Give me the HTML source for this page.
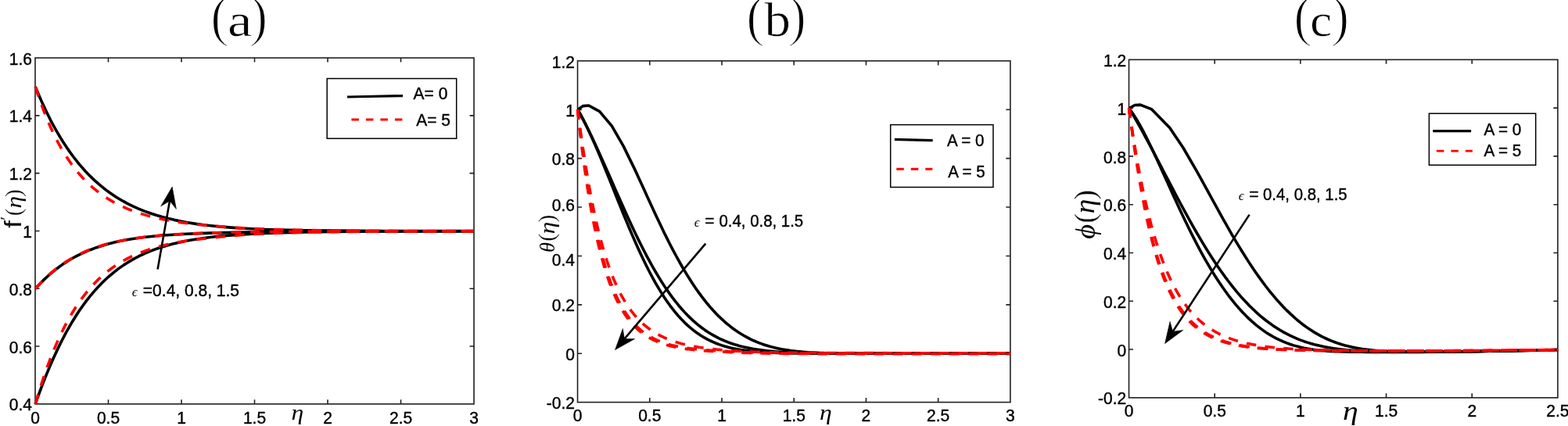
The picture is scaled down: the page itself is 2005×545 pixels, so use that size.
<!DOCTYPE html>
<html lang="en"><head><meta charset="utf-8"><title>Figure: velocity, temperature and concentration profiles</title>
<style>
html,body{margin:0;padding:0;background:#fff;}
body{width:2005px;height:545px;overflow:hidden;}
svg{display:block;}
svg text{font-family:"Liberation Sans", Arial, Helvetica, sans-serif;font-size:22px;fill:#000;stroke:#000;stroke-width:0.42px;stroke-linejoin:round;}
svg text.sf{font-family:"Liberation Serif","Times New Roman",serif;stroke:none;}
svg text.si{font-family:"Liberation Serif","Times New Roman",serif;font-style:italic;stroke:none;}
svg text.ss{font-family:"Liberation Sans",Arial,sans-serif;stroke:none;}
</style></head><body>
<svg width="2005" height="545" viewBox="0 0 2005 545">
<rect width="2005" height="545" fill="#fff"/>
<g>
<rect x="45" y="74.05" width="561.05" height="442.8" fill="none" stroke="#202020" stroke-width="1.6"/>
<path d="M138.51 516.85v-5.5 M138.51 74.05v5.5 M232.02 516.85v-5.5 M232.02 74.05v5.5 M325.52 516.85v-5.5 M325.52 74.05v5.5 M419.03 516.85v-5.5 M419.03 74.05v5.5 M512.54 516.85v-5.5 M512.54 74.05v5.5 M45 443.05h5.5 M606.05 443.05h-5.5 M45 369.25h5.5 M606.05 369.25h-5.5 M45 295.45h5.5 M606.05 295.45h-5.5 M45 221.65h5.5 M606.05 221.65h-5.5 M45 147.85h5.5 M606.05 147.85h-5.5 " fill="none" stroke="#202020" stroke-width="1.6"/>
<text transform="translate(45 542) scale(0.955 1)" text-anchor="middle">0</text>
<text transform="translate(138.51 542) scale(0.955 1)" text-anchor="middle">0.5</text>
<text transform="translate(232.02 542) scale(0.955 1)" text-anchor="middle">1</text>
<text transform="translate(325.52 542) scale(0.955 1)" text-anchor="middle">1.5</text>
<text transform="translate(419.03 542) scale(0.955 1)" text-anchor="middle">2</text>
<text transform="translate(512.54 542) scale(0.955 1)" text-anchor="middle">2.5</text>
<text transform="translate(606.05 542) scale(0.955 1)" text-anchor="middle">3</text>
<text transform="translate(41 525.45) scale(0.955 1)" text-anchor="end">0.4</text>
<text transform="translate(41 451.65) scale(0.955 1)" text-anchor="end">0.6</text>
<text transform="translate(41 377.85) scale(0.955 1)" text-anchor="end">0.8</text>
<text transform="translate(41 304.05) scale(0.955 1)" text-anchor="end">1</text>
<text transform="translate(41 230.25) scale(0.955 1)" text-anchor="end">1.2</text>
<text transform="translate(41 156.45) scale(0.955 1)" text-anchor="end">1.4</text>
<text transform="translate(41 82.65) scale(0.955 1)" text-anchor="end">1.6</text>
<path d="M45.2 111 L49.78 121.99 L54.59 132.87 L59.65 143.63 L64.99 154.26 L68.72 161.25 L72.58 168.17 L76.6 175 L80.78 181.74 L85.12 188.36 L89.63 194.87 L94.33 201.25 L99.22 207.48 L104.31 213.55 L109.6 219.44 L115.1 225.15 L120.81 230.64 L126.73 235.92 L129.77 238.46 L132.86 240.95 L136.01 243.37 L139.2 245.73 L142.44 248.02 L145.73 250.24 L149.07 252.39 L152.46 254.48 L155.88 256.49 L159.35 258.43 L162.86 260.31 L169.99 263.84 L177.26 267.1 L184.65 270.09 L192.15 272.81 L199.73 275.29 L207.39 277.53 L215.12 279.55 L222.9 281.37 L230.72 283 L238.57 284.46 L250.41 286.36 L262.3 287.96 L274.22 289.3 L286.16 290.41 L302.12 291.62 L318.09 292.56 L338.07 293.45 L358.06 294.05 L390.05 294.68 L430.05 295.14 L490.04 295.47 L606 295.66" fill="none" stroke="#000" stroke-width="3.6" stroke-linejoin="round"/>
<path d="M45.2 369.3 L50.59 363.49 L56.18 357.88 L62 352.49 L64.98 349.89 L68.02 347.34 L71.12 344.87 L74.27 342.46 L77.48 340.12 L80.73 337.85 L84.04 335.66 L87.4 333.54 L90.81 331.51 L94.27 329.55 L97.77 327.66 L101.31 325.86 L104.9 324.14 L108.52 322.49 L112.18 320.93 L115.88 319.44 L123.36 316.68 L130.94 314.22 L138.61 312.02 L146.36 310.07 L154.16 308.35 L162 306.84 L169.88 305.52 L181.75 303.83 L193.67 302.45 L205.61 301.33 L217.58 300.42 L233.55 299.47 L253.52 298.59 L277.51 297.87 L317.5 296.94 L353.5 296.43 L405.5 296.03 L493.5 295.79 L606 295.72" fill="none" stroke="#000" stroke-width="3.6" stroke-linejoin="round"/>
<path d="M45.2 516.8 L50.58 501.84 L54.79 490.69 L59.18 479.61 L63.76 468.61 L68.55 457.7 L73.56 446.91 L78.83 436.24 L84.37 425.71 L88.23 418.79 L92.24 411.95 L96.4 405.21 L100.72 398.57 L105.22 392.05 L109.9 385.66 L114.78 379.42 L119.85 373.35 L125.14 367.45 L130.64 361.75 L133.48 358.99 L136.37 356.28 L139.32 353.63 L142.32 351.04 L145.38 348.52 L148.49 346.07 L151.66 343.68 L154.88 341.36 L158.15 339.12 L161.48 336.95 L164.85 334.85 L168.27 332.83 L171.74 330.89 L175.25 329.02 L178.8 327.23 L182.39 325.51 L186.02 323.88 L189.68 322.31 L197.1 319.4 L204.63 316.77 L212.25 314.41 L219.95 312.29 L227.71 310.41 L235.52 308.73 L243.37 307.24 L251.25 305.92 L263.12 304.23 L275.03 302.82 L286.97 301.66 L302.92 300.4 L318.89 299.4 L338.86 298.45 L362.85 297.62 L390.84 296.96 L426.84 296.44 L478.83 296.04 L566.83 295.79 L606 295.75" fill="none" stroke="#000" stroke-width="3.6" stroke-linejoin="round"/>
<path d="M45.2 111 L48.89 122.29 L52.83 133.49 L57.02 144.59 L61.51 155.57 L64.68 162.81 L68.01 169.98 L71.51 177.06 L75.19 184.05 L79.06 190.93 L83.14 197.69 L87.45 204.31 L91.99 210.76 L96.77 217.04 L99.26 220.11 L101.82 223.12 L104.44 226.07 L107.13 228.97 L109.88 231.8 L112.7 234.56 L115.6 237.26 L118.55 239.89 L121.58 242.44 L124.67 244.92 L127.82 247.32 L131.03 249.64 L134.3 251.87 L137.63 254.03 L141.02 256.1 L144.46 258.09 L147.94 260 L151.48 261.82 L155.05 263.56 L158.67 265.22 L162.32 266.81 L166.01 268.31 L173.47 271.11 L181.04 273.62 L188.7 275.87 L196.42 277.89 L204.2 279.7 L212.03 281.31 L219.89 282.75 L231.73 284.62 L243.62 286.2 L255.54 287.53 L267.49 288.66 L291.4 290.59 L307.37 291.65 L327.34 292.67 L351.32 293.57 L379.31 294.28 L415.31 294.86 L463.3 295.28 L539.3 295.56 L606 295.65" fill="none" stroke="#ff0000" stroke-width="3.6" stroke-linejoin="round" stroke-dasharray="12.7 11.8" stroke-dashoffset="0"/>
<path d="M45.2 369.3 L50.5 363.42 L56.02 357.74 L58.86 354.98 L61.76 352.29 L64.73 349.66 L67.75 347.1 L70.82 344.6 L73.96 342.17 L77.15 339.82 L80.4 337.54 L83.7 335.34 L87.05 333.22 L90.46 331.18 L93.91 329.21 L97.41 327.33 L100.96 325.53 L104.55 323.81 L108.17 322.18 L111.84 320.62 L115.53 319.14 L119.26 317.73 L126.8 315.15 L134.44 312.84 L142.16 310.79 L149.93 308.99 L157.76 307.39 L165.63 306 L173.53 304.77 L185.42 303.22 L197.35 301.95 L209.3 300.91 L225.26 299.83 L241.24 299 L261.22 298.23 L297.21 297.3 L329.2 296.69 L373.2 296.21 L437.2 295.89 L569.2 295.73 L606 295.71" fill="none" stroke="#ff0000" stroke-width="3.6" stroke-linejoin="round" stroke-dasharray="12.7 11.8" stroke-dashoffset="0"/>
<path d="M45.2 516.8 L49.72 501.58 L53.3 490.23 L57.07 478.95 L61.04 467.75 L65.25 456.63 L69.71 445.62 L74.45 434.73 L77.78 427.55 L81.26 420.45 L84.9 413.43 L88.72 406.5 L92.72 399.69 L96.91 392.99 L101.32 386.43 L105.95 380.03 L110.81 373.8 L113.34 370.76 L115.92 367.77 L118.57 364.84 L121.29 361.97 L124.06 359.15 L126.91 356.41 L129.82 353.72 L132.79 351.11 L135.83 348.57 L138.93 346.11 L142.09 343.72 L145.31 341.41 L148.59 339.19 L151.93 337.04 L155.32 334.98 L158.76 333 L162.26 331.1 L165.79 329.29 L169.37 327.56 L173 325.91 L176.66 324.34 L180.35 322.85 L187.83 320.1 L195.41 317.63 L203.08 315.42 L210.82 313.46 L218.61 311.71 L226.45 310.16 L234.32 308.79 L246.19 307.03 L258.09 305.56 L270.02 304.33 L281.94 302.96 L293.89 301.81 L309.83 300.56 L325.8 299.56 L345.77 298.59 L369.76 297.75 L397.75 297.07 L433.75 296.51 L485.74 296.08 L569.74 295.81 L606 295.77" fill="none" stroke="#ff0000" stroke-width="3.6" stroke-linejoin="round" stroke-dasharray="12.7 11.8" stroke-dashoffset="0"/>
<path d="M201.6 344.5L217.01 257.08" stroke="#000" stroke-width="2.6" fill="none"/>
<path d="M220.2 239L225.36 267.33L217.01 257.08L205.66 263.85Z" fill="#000" stroke="#000" stroke-width="0.6" stroke-linejoin="miter"/>
<text class="si" x="168.67" y="379.20" style="font-size:17.50px">ϵ</text>
<text transform="translate(182.85 379.2) scale(0.955 1)">=0.4, 0.8, 1.5</text>
<rect x="418.2" y="100.5" width="165.5" height="76.7" fill="#fff" stroke="#000" stroke-width="1.5"/>
<path d="M444 124L515 122.6" stroke="#000" stroke-width="3.2" fill="none"/>
<path d="M449.4 153H514.8" stroke="#ff0000" stroke-width="2.9" stroke-dasharray="9.5 9" fill="none"/>
<text transform="translate(528.6 126.7) scale(0.955 1)">A= 0</text>
<text transform="translate(532.2 161) scale(0.955 1)">A= 5</text>
<text class="ss" transform="translate(26.80 291.83) rotate(-90) scale(1.220 1)" style="font-size:28.70px">f</text>
<text class="ss" transform="translate(14.60 282.40) rotate(-90) scale(1.500 1)" style="font-size:20.00px;stroke:#fff;stroke-width:0.30px">′</text>
<text class="sf" transform="translate(26.50 276.33) rotate(-90)" style="font-size:29.50px;stroke:#fff;stroke-width:0.30px">(</text>
<text class="si" transform="translate(26.90 266.50) rotate(-90) scale(1.150 1)" style="font-size:27.30px">η</text>
<text class="sf" transform="translate(26.50 251.98) rotate(-90)" style="font-size:29.50px;stroke:#fff;stroke-width:0.30px">)</text>
<text class="si" transform="translate(372.59 536.80) scale(1.150 1)" style="font-size:27.60px">η</text>
<text class="sf" x="269.06" y="44.70" style="font-size:72.00px;stroke:#fff;stroke-width:1.80px">(</text>
<text class="sf" transform="translate(290.92 46.40) scale(1.190 1)" style="font-size:59.60px;stroke:#fff;stroke-width:0.60px">a</text>
<text class="sf" x="318.62" y="44.70" style="font-size:72.00px;stroke:#fff;stroke-width:1.80px">)</text>
</g>
<g>
<rect x="738.55" y="77.9" width="553.35" height="436.7" fill="none" stroke="#202020" stroke-width="1.6"/>
<path d="M830.77 514.6v-5.5 M830.77 77.9v5.5 M923 514.6v-5.5 M923 77.9v5.5 M1015.23 514.6v-5.5 M1015.23 77.9v5.5 M1107.45 514.6v-5.5 M1107.45 77.9v5.5 M1199.68 514.6v-5.5 M1199.68 77.9v5.5 M738.55 452.21h5.5 M1291.9 452.21h-5.5 M738.55 389.83h5.5 M1291.9 389.83h-5.5 M738.55 327.44h5.5 M1291.9 327.44h-5.5 M738.55 265.06h5.5 M1291.9 265.06h-5.5 M738.55 202.67h5.5 M1291.9 202.67h-5.5 M738.55 140.29h5.5 M1291.9 140.29h-5.5 " fill="none" stroke="#202020" stroke-width="1.6"/>
<text transform="translate(738.55 539.2) scale(0.955 1)" text-anchor="middle">0</text>
<text transform="translate(830.77 539.2) scale(0.955 1)" text-anchor="middle">0.5</text>
<text transform="translate(923 539.2) scale(0.955 1)" text-anchor="middle">1</text>
<text transform="translate(1015.23 539.2) scale(0.955 1)" text-anchor="middle">1.5</text>
<text transform="translate(1107.45 539.2) scale(0.955 1)" text-anchor="middle">2</text>
<text transform="translate(1199.68 539.2) scale(0.955 1)" text-anchor="middle">2.5</text>
<text transform="translate(1291.9 539.2) scale(0.955 1)" text-anchor="middle">3</text>
<text transform="translate(735 523.2) scale(0.955 1)" text-anchor="end">-0.2</text>
<text transform="translate(735 460.81) scale(0.955 1)" text-anchor="end">0</text>
<text transform="translate(735 398.43) scale(0.955 1)" text-anchor="end">0.2</text>
<text transform="translate(735 340.24) scale(0.955 1)" text-anchor="end">0.4</text>
<text transform="translate(735 269.66) scale(0.955 1)" text-anchor="end">0.6</text>
<text transform="translate(735 211.27) scale(0.955 1)" text-anchor="end">0.8</text>
<text transform="translate(735 148.89) scale(0.955 1)" text-anchor="end">1</text>
<text transform="translate(735 86.5) scale(0.955 1)" text-anchor="end">1.2</text>
<path d="M738.9 140.2 L745.4 135.6 L752.8 135 L766.7 142.6 L782.3 161.09 L796.86 186.35 L811.43 216.13 L816.09 226.18 L819.78 234.22 L823.47 242.31 L827.16 250.41 L830.85 258.48 L834.54 266.51 L838.23 274.47 L841.92 282.33 L845.61 290.07 L849.3 297.68 L852.99 305.14 L856.68 312.44 L860.37 319.56 L864.06 326.49 L867.75 333.22 L871.44 339.75 L875.13 346.07 L878.82 352.18 L882.51 358.07 L886.2 363.73 L889.89 369.18 L893.58 374.4 L897.27 379.41 L900.96 384.19 L904.65 388.76 L908.34 393.11 L912.03 397.25 L915.72 401.18 L919.41 404.91 L923.1 408.44 L926.79 411.78 L930.48 414.93 L934.17 417.9 L937.86 420.69 L941.55 423.31 L945.24 425.76 L948.93 428.05 L952.62 430.2 L956.31 432.19 L960 434.04 L963.69 435.76 L967.38 437.36 L971.07 438.83 L974.76 440.18 L978.45 441.43 L982.14 442.57 L985.83 443.61 L989.52 444.57 L993.21 445.43 L996.9 446.22 L1000.59 446.93 L1004.28 447.57 L1007.97 448.15 L1011.66 448.66 L1015.35 449.13 L1019.04 449.54 L1022.73 449.9 L1026.42 450.22 L1030.11 450.51 L1033.8 450.76 L1037.49 450.97 L1041.18 451.16 L1044.87 451.33 L1048.56 451.47 L1052.25 451.59 L1055.94 451.69 L1059.63 451.78 L1063.32 451.86 L1067.01 451.92 L1070.7 451.97 L1089.15 452.12 L1107.6 452.18 L1126.05 452.2 L1144.5 452.2 L1162.95 452.2 L1181.4 452.2 L1199.85 452.2 L1218.3 452.2 L1236.75 452.2 L1255.2 452.2 L1273.65 452.2 L1292 452.2" fill="none" stroke="#000" stroke-width="3.6" stroke-linejoin="round"/>
<path d="M738.6 140 L742.29 146.64 L745.98 153.57 L749.67 160.78 L753.36 168.23 L757.05 175.89 L760.74 183.74 L764.43 191.75 L768.12 199.89 L771.81 208.14 L775.5 216.46 L779.19 224.83 L782.88 233.23 L786.57 241.62 L790.26 249.99 L793.95 258.31 L797.64 266.56 L801.33 274.73 L805.02 282.78 L808.71 290.7 L812.4 298.48 L816.09 306.09 L819.78 313.54 L823.47 320.79 L827.16 327.85 L830.85 334.71 L834.54 341.34 L838.23 347.76 L841.92 353.95 L845.61 359.91 L849.3 365.63 L852.99 371.12 L856.68 376.37 L860.37 381.38 L864.06 386.16 L867.75 390.71 L871.44 395.03 L875.13 399.12 L878.82 402.99 L882.51 406.65 L886.2 410.1 L889.89 413.34 L893.58 416.39 L897.27 419.24 L900.96 421.91 L904.65 424.41 L908.34 426.74 L912.03 428.9 L915.72 430.92 L919.41 432.79 L923.1 434.52 L926.79 436.12 L930.48 437.59 L934.17 438.95 L937.86 440.2 L941.55 441.35 L945.24 442.41 L948.93 443.37 L952.62 444.25 L956.31 445.05 L960 445.79 L963.69 446.45 L967.38 447.05 L971.07 447.6 L974.76 448.1 L978.45 448.54 L982.14 448.95 L985.83 449.31 L989.52 449.64 L993.21 449.93 L996.9 450.19 L1000.59 450.43 L1004.28 450.63 L1007.97 450.82 L1011.66 450.99 L1015.35 451.14 L1019.04 451.27 L1022.73 451.38 L1026.42 451.49 L1030.11 451.58 L1033.8 451.66 L1037.49 451.73 L1041.18 451.79 L1044.87 451.84 L1048.56 451.89 L1052.25 451.93 L1055.94 451.97 L1059.63 452 L1063.32 452.03 L1067.01 452.05 L1070.7 452.07 L1089.15 452.14 L1107.6 452.17 L1126.05 452.19 L1144.5 452.2 L1162.95 452.2 L1181.4 452.2 L1199.85 452.2 L1218.3 452.2 L1236.75 452.2 L1255.2 452.2 L1273.65 452.2 L1292 452.2" fill="none" stroke="#000" stroke-width="3.6" stroke-linejoin="round"/>
<path d="M738.6 140 L742.29 146.46 L745.98 153.37 L749.67 160.69 L753.36 168.37 L757.05 176.38 L760.74 184.69 L764.43 193.24 L768.12 202 L771.81 210.94 L775.5 220 L779.19 229.15 L782.88 238.36 L786.57 247.57 L790.26 256.77 L793.95 265.92 L797.64 274.98 L801.33 283.92 L805.02 292.72 L808.71 301.35 L812.4 309.79 L816.09 318.02 L819.78 326.01 L823.47 333.76 L827.16 341.25 L830.85 348.46 L834.54 355.39 L838.23 362.03 L841.92 368.38 L845.61 374.43 L849.3 380.18 L852.99 385.64 L856.68 390.8 L860.37 395.67 L864.06 400.26 L867.75 404.56 L871.44 408.59 L875.13 412.36 L878.82 415.87 L882.51 419.14 L886.2 422.17 L889.89 424.98 L893.58 427.57 L897.27 429.95 L900.96 432.15 L904.65 434.16 L908.34 436 L912.03 437.69 L915.72 439.22 L919.41 440.61 L923.1 441.87 L926.79 443.02 L930.48 444.05 L934.17 444.98 L937.86 445.82 L941.55 446.57 L945.24 447.24 L948.93 447.84 L952.62 448.37 L956.31 448.85 L960 449.27 L963.69 449.65 L967.38 449.98 L971.07 450.27 L974.76 450.52 L978.45 450.75 L982.14 450.95 L985.83 451.12 L989.52 451.27 L993.21 451.4 L996.9 451.52 L1000.59 451.61 L1004.28 451.7 L1007.97 451.77 L1011.66 451.84 L1015.35 451.89 L1019.04 451.94 L1022.73 451.98 L1026.42 452.01 L1030.11 452.04 L1033.8 452.07 L1037.49 452.09 L1041.18 452.11 L1044.87 452.12 L1048.56 452.14 L1052.25 452.15 L1055.94 452.16 L1059.63 452.16 L1063.32 452.17 L1067.01 452.17 L1070.7 452.18 L1089.15 452.19 L1107.6 452.2 L1126.05 452.2 L1144.5 452.2 L1162.95 452.2 L1181.4 452.2 L1199.85 452.2 L1218.3 452.2 L1236.75 452.2 L1255.2 452.2 L1273.65 452.2 L1292 452.2" fill="none" stroke="#000" stroke-width="3.6" stroke-linejoin="round"/>
<path d="M738.6 140 L740.45 157.46 L742.29 173.82 L744.13 189.19 L745.98 203.63 L747.83 217.23 L749.67 230.04 L751.51 242.13 L753.36 253.54 L755.21 264.31 L757.05 274.49 L758.89 284.11 L760.74 293.21 L762.59 301.81 L764.43 309.95 L766.27 317.65 L768.12 324.93 L769.97 331.82 L771.81 338.33 L773.65 344.5 L775.5 350.33 L777.35 355.85 L779.19 361.07 L781.04 366 L782.88 370.67 L784.73 375.08 L786.57 379.25 L788.42 383.2 L790.26 386.92 L792.11 390.45 L793.95 393.78 L795.8 396.92 L797.64 399.9 L799.49 402.71 L801.33 405.36 L803.18 407.87 L805.02 410.24 L806.87 412.48 L808.71 414.59 L810.56 416.59 L812.4 418.47 L814.25 420.25 L816.09 421.93 L817.94 423.52 L819.78 425.02 L821.62 426.44 L823.47 427.78 L825.32 429.04 L827.16 430.24 L829 431.37 L830.85 432.43 L832.7 433.44 L834.54 434.39 L836.38 435.29 L838.23 436.14 L840.08 436.94 L841.92 437.7 L843.76 438.42 L845.61 439.09 L847.46 439.74 L849.3 440.34 L851.14 440.91 L852.99 441.46 L854.84 441.97 L856.68 442.45 L858.52 442.91 L860.37 443.35 L862.22 443.76 L864.06 444.15 L865.9 444.51 L867.75 444.86 L869.6 445.19 L871.44 445.51 L873.29 445.8 L875.13 446.08 L876.98 446.35 L878.82 446.6 L880.66 446.84 L882.51 447.06 L884.36 447.28 L886.2 447.48 L888.05 447.67 L889.89 447.86 L891.74 448.03 L893.58 448.19 L895.42 448.35 L897.27 448.5 L899.12 448.64 L900.96 448.77 L902.81 448.89 L904.65 449.01 L906.5 449.13 L908.34 449.23 L910.19 449.34 L912.03 449.43 L913.88 449.52 L915.72 449.61 L917.57 449.69 L919.41 449.77 L921.25 449.84 L923.1 449.91 L924.95 450.04 L926.79 450.16 L928.63 450.28 L930.48 450.39 L932.33 450.5 L934.17 450.6 L936.02 450.7 L937.86 450.79 L939.71 450.88 L941.55 450.96 L943.39 451.04 L945.24 451.12 L947.09 451.19 L948.93 451.26 L950.78 451.33 L952.62 451.39 L954.47 451.45 L956.31 451.51 L958.15 451.56 L960 451.62 L961.85 451.67 L963.69 451.71 L965.54 451.76 L967.38 451.8 L969.23 451.84 L971.07 451.88 L972.91 451.92 L974.76 451.96 L976.61 451.99 L978.45 452.02 L980.3 452.05 L982.14 452.08 L983.99 452.11 L985.83 452.14 L987.68 452.17 L989.52 452.19 L991.37 452.21 L993.21 452.24 L995.06 452.26 L996.9 452.28 L998.75 452.3 L1000.59 452.32 L1002.43 452.33 L1004.28 452.35 L1006.12 452.37 L1007.97 452.38 L1009.82 452.4 L1011.66 452.41 L1013.5 452.42 L1015.35 452.44 L1017.2 452.45 L1019.04 452.46 L1020.88 452.47 L1022.73 452.48 L1024.58 452.49 L1026.42 452.5 L1028.27 452.51 L1030.11 452.52 L1031.95 452.53 L1033.8 452.54 L1035.64 452.54 L1037.49 452.55 L1039.34 452.56 L1041.18 452.56 L1043.03 452.57 L1044.87 452.58 L1046.72 452.58 L1048.56 452.59 L1050.4 452.59 L1052.25 452.6 L1054.1 452.6 L1055.94 452.61 L1057.79 452.61 L1059.63 452.62 L1061.47 452.62 L1063.32 452.62 L1065.16 452.63 L1067.01 452.63 L1068.86 452.63 L1070.7 452.64 L1089.15 452.66 L1107.6 452.68 L1126.05 452.68 L1144.5 452.69 L1162.95 452.69 L1181.4 452.7 L1199.85 452.7 L1218.3 452.7 L1236.75 452.7 L1255.2 452.7 L1273.65 452.7 L1292 452.7" fill="none" stroke="#ff0000" stroke-width="3.6" stroke-linejoin="round" stroke-dasharray="12.6 11.6" stroke-dashoffset="0.5"/>
<path d="M738.6 140 L740.45 156.05 L742.29 171.33 L744.13 185.86 L745.98 199.68 L747.83 212.81 L749.67 225.29 L751.51 237.15 L753.36 248.41 L755.21 259.1 L757.05 269.24 L758.89 278.87 L760.74 288.01 L762.59 296.67 L764.43 304.88 L766.27 312.67 L768.12 320.05 L769.97 327.04 L771.81 333.66 L773.65 339.94 L775.5 345.88 L777.35 351.51 L779.19 356.83 L781.04 361.88 L782.88 366.65 L784.73 371.16 L786.57 375.44 L788.42 379.48 L790.26 383.3 L792.11 386.92 L793.95 390.34 L795.8 393.58 L797.64 396.64 L799.49 399.53 L801.33 402.27 L803.18 404.85 L805.02 407.3 L806.87 409.61 L808.71 411.8 L810.56 413.86 L812.4 415.82 L814.25 417.67 L816.09 419.41 L817.94 421.06 L819.78 422.63 L821.62 424.1 L823.47 425.5 L825.32 426.82 L827.16 428.07 L829 429.25 L830.85 430.36 L832.7 431.42 L834.54 432.42 L836.38 433.36 L838.23 434.25 L840.08 435.1 L841.92 435.9 L843.76 436.66 L845.61 437.37 L847.46 438.05 L849.3 438.69 L851.14 439.3 L852.99 439.88 L854.84 440.42 L856.68 440.94 L858.52 441.42 L860.37 441.89 L862.22 442.33 L864.06 442.74 L865.9 443.13 L867.75 443.51 L869.6 443.86 L871.44 444.2 L873.29 444.51 L875.13 444.82 L876.98 445.1 L878.82 445.37 L880.66 445.63 L882.51 445.87 L884.36 446.1 L886.2 446.32 L888.05 446.53 L889.89 446.73 L891.74 446.92 L893.58 447.1 L895.42 447.26 L897.27 447.42 L899.12 447.58 L900.96 447.72 L902.81 447.86 L904.65 447.99 L906.5 448.11 L908.34 448.23 L910.19 448.34 L912.03 448.44 L913.88 448.54 L915.72 448.64 L917.57 448.73 L919.41 448.81 L921.25 448.89 L923.1 448.97 L924.95 449.11 L926.79 449.25 L928.63 449.38 L930.48 449.51 L932.33 449.63 L934.17 449.74 L936.02 449.85 L937.86 449.96 L939.71 450.06 L941.55 450.15 L943.39 450.24 L945.24 450.33 L947.09 450.41 L948.93 450.49 L950.78 450.57 L952.62 450.64 L954.47 450.71 L956.31 450.78 L958.15 450.84 L960 450.9 L961.85 450.96 L963.69 451.02 L965.54 451.07 L967.38 451.12 L969.23 451.17 L971.07 451.21 L972.91 451.26 L974.76 451.3 L976.61 451.34 L978.45 451.38 L980.3 451.42 L982.14 451.45 L983.99 451.48 L985.83 451.52 L987.68 451.55 L989.52 451.58 L991.37 451.6 L993.21 451.63 L995.06 451.66 L996.9 451.68 L998.75 451.7 L1000.59 451.73 L1002.43 451.75 L1004.28 451.77 L1006.12 451.79 L1007.97 451.8 L1009.82 451.82 L1011.66 451.84 L1013.5 451.86 L1015.35 451.87 L1017.2 451.89 L1019.04 451.9 L1020.88 451.91 L1022.73 451.93 L1024.58 451.94 L1026.42 451.95 L1028.27 451.96 L1030.11 451.97 L1031.95 451.98 L1033.8 451.99 L1035.64 452 L1037.49 452.01 L1039.34 452.02 L1041.18 452.03 L1043.03 452.03 L1044.87 452.04 L1046.72 452.05 L1048.56 452.06 L1050.4 452.06 L1052.25 452.07 L1054.1 452.07 L1055.94 452.08 L1057.79 452.08 L1059.63 452.09 L1061.47 452.1 L1063.32 452.1 L1065.16 452.1 L1067.01 452.11 L1068.86 452.11 L1070.7 452.12 L1089.15 452.15 L1107.6 452.17 L1126.05 452.18 L1144.5 452.19 L1162.95 452.19 L1181.4 452.19 L1199.85 452.2 L1218.3 452.2 L1236.75 452.2 L1255.2 452.2 L1273.65 452.2 L1292 452.2" fill="none" stroke="#ff0000" stroke-width="3.6" stroke-linejoin="round" stroke-dasharray="12.6 11.6" stroke-dashoffset="0"/>
<path d="M738.6 140 L740.45 154.09 L742.29 167.69 L744.13 180.77 L745.98 193.33 L747.83 205.37 L749.67 216.9 L751.51 227.92 L753.36 238.45 L755.21 248.5 L757.05 258.08 L758.89 267.21 L760.74 275.9 L762.59 284.18 L764.43 292.07 L766.27 299.57 L768.12 306.7 L769.97 313.49 L771.81 319.95 L773.65 326.09 L775.5 331.94 L777.35 337.49 L779.19 342.78 L781.04 347.81 L782.88 352.59 L784.73 357.14 L786.57 361.47 L788.42 365.59 L790.26 369.51 L792.11 373.24 L793.95 376.79 L795.8 380.17 L797.64 383.39 L799.49 386.46 L801.33 389.37 L803.18 392.15 L805.02 394.8 L806.87 397.33 L808.71 399.73 L810.56 402.02 L812.4 404.21 L814.25 406.29 L816.09 408.27 L817.94 410.17 L819.78 411.97 L821.62 413.69 L823.47 415.33 L825.32 416.9 L827.16 418.4 L829 419.82 L830.85 421.18 L832.7 422.48 L834.54 423.73 L836.38 424.91 L838.23 426.04 L840.08 427.12 L841.92 428.15 L843.76 429.14 L845.61 430.08 L847.46 430.98 L849.3 431.84 L851.14 432.66 L852.99 433.45 L854.84 434.2 L856.68 434.92 L858.52 435.61 L860.37 436.26 L862.22 436.89 L864.06 437.49 L865.9 438.07 L867.75 438.62 L869.6 439.14 L871.44 439.65 L873.29 440.13 L875.13 440.59 L876.98 441.03 L878.82 441.46 L880.66 441.86 L882.51 442.25 L884.36 442.62 L886.2 442.98 L888.05 443.32 L889.89 443.64 L891.74 443.96 L893.58 444.26 L895.42 444.54 L897.27 444.82 L899.12 445.08 L900.96 445.34 L902.81 445.58 L904.65 445.81 L906.5 446.03 L908.34 446.25 L910.19 446.45 L912.03 446.65 L913.88 446.84 L915.72 447.02 L917.57 447.2 L919.41 447.36 L921.25 447.52 L923.1 447.68 L924.95 447.85 L926.79 448.01 L928.63 448.17 L930.48 448.32 L932.33 448.46 L934.17 448.6 L936.02 448.73 L937.86 448.86 L939.71 448.98 L941.55 449.1 L943.39 449.21 L945.24 449.31 L947.09 449.41 L948.93 449.51 L950.78 449.61 L952.62 449.69 L954.47 449.78 L956.31 449.86 L958.15 449.94 L960 450.01 L961.85 450.09 L963.69 450.15 L965.54 450.22 L967.38 450.28 L969.23 450.34 L971.07 450.4 L972.91 450.46 L974.76 450.51 L976.61 450.56 L978.45 450.61 L980.3 450.66 L982.14 450.7 L983.99 450.74 L985.83 450.78 L987.68 450.82 L989.52 450.86 L991.37 450.9 L993.21 450.93 L995.06 450.96 L996.9 450.99 L998.75 451.02 L1000.59 451.05 L1002.43 451.08 L1004.28 451.11 L1006.12 451.13 L1007.97 451.16 L1009.82 451.18 L1011.66 451.2 L1013.5 451.22 L1015.35 451.24 L1017.2 451.26 L1019.04 451.28 L1020.88 451.3 L1022.73 451.32 L1024.58 451.33 L1026.42 451.35 L1028.27 451.36 L1030.11 451.38 L1031.95 451.39 L1033.8 451.4 L1035.64 451.42 L1037.49 451.43 L1039.34 451.44 L1041.18 451.45 L1043.03 451.46 L1044.87 451.47 L1046.72 451.48 L1048.56 451.49 L1050.4 451.5 L1052.25 451.51 L1054.1 451.52 L1055.94 451.52 L1057.79 451.53 L1059.63 451.54 L1061.47 451.55 L1063.32 451.55 L1065.16 451.56 L1067.01 451.56 L1068.86 451.57 L1070.7 451.58 L1089.15 451.62 L1107.6 451.65 L1126.05 451.67 L1144.5 451.68 L1162.95 451.69 L1181.4 451.69 L1199.85 451.69 L1218.3 451.7 L1236.75 451.7 L1255.2 451.7 L1273.65 451.7 L1292 451.7" fill="none" stroke="#ff0000" stroke-width="3.6" stroke-linejoin="round" stroke-dasharray="12.6 11.6" stroke-dashoffset="-0.5"/>
<path d="M902.3 311.6L798.4 433.62" stroke="#000" stroke-width="2.6" fill="none"/>
<path d="M786.5 447.6L796.39 420.56L798.4 433.62L811.62 433.53Z" fill="#000" stroke="#000" stroke-width="0.6" stroke-linejoin="miter"/>
<text class="si" x="887.68" y="289.80" style="font-size:17.50px">ϵ</text>
<text transform="translate(901.25 289.8) scale(0.955 1)">=</text>
<text transform="translate(1027.2 289.8) scale(0.927 1)" text-anchor="end">0.4, 0.8, 1.5</text>
<rect x="1138.7" y="159.6" width="131.3" height="79.9" fill="#fff" stroke="#000" stroke-width="1.5"/>
<path d="M1143.9 178.4L1192.7 179.6" stroke="#000" stroke-width="3.2" fill="none"/>
<path d="M1146.3 216.3H1192.3" stroke="#ff0000" stroke-width="2.9" stroke-dasharray="9.5 9" fill="none"/>
<text transform="translate(1210.9 187.2) scale(0.935 1)">A = 0</text>
<text transform="translate(1212.3 227) scale(0.935 1)">A = 5</text>
<text class="si" transform="translate(709.00 323.02) rotate(-90) scale(0.950 1)" style="font-size:27.70px">θ</text>
<text class="sf" transform="translate(708.60 308.74) rotate(-90)" style="font-size:29.80px;stroke:#fff;stroke-width:0.30px">(</text>
<text class="si" transform="translate(708.90 299.51) rotate(-90) scale(1.200 1)" style="font-size:26.50px">η</text>
<text class="sf" transform="translate(708.60 284.39) rotate(-90)" style="font-size:29.80px;stroke:#fff;stroke-width:0.30px">)</text>
<text class="si" transform="translate(1047.89 536.80) scale(1.150 1)" style="font-size:27.60px">η</text>
<text class="sf" x="954.06" y="44.70" style="font-size:72.00px;stroke:#fff;stroke-width:1.80px">(</text>
<text class="sf" transform="translate(977.40 46.40) scale(1.100 1)" style="font-size:60.70px;stroke:#fff;stroke-width:0.60px">b</text>
<text class="sf" x="1007.22" y="44.70" style="font-size:72.00px;stroke:#fff;stroke-width:1.80px">)</text>
</g>
<g>
<rect x="1443.55" y="76.35" width="548.35" height="432.45" fill="none" stroke="#202020" stroke-width="1.6"/>
<path d="M1553.22 508.8v-5.5 M1553.22 76.35v5.5 M1662.89 508.8v-5.5 M1662.89 76.35v5.5 M1772.56 508.8v-5.5 M1772.56 76.35v5.5 M1882.23 508.8v-5.5 M1882.23 76.35v5.5 M1443.55 447.02h5.5 M1991.9 447.02h-5.5 M1443.55 385.24h5.5 M1991.9 385.24h-5.5 M1443.55 323.46h5.5 M1991.9 323.46h-5.5 M1443.55 261.69h5.5 M1991.9 261.69h-5.5 M1443.55 199.91h5.5 M1991.9 199.91h-5.5 M1443.55 138.13h5.5 M1991.9 138.13h-5.5 " fill="none" stroke="#202020" stroke-width="1.6"/>
<text transform="translate(1443.55 533.3) scale(0.955 1)" text-anchor="middle">0</text>
<text transform="translate(1553.22 533.3) scale(0.955 1)" text-anchor="middle">0.5</text>
<text transform="translate(1662.89 533.3) scale(0.955 1)" text-anchor="middle">1</text>
<text transform="translate(1772.56 533.3) scale(0.955 1)" text-anchor="middle">1.5</text>
<text transform="translate(1882.23 533.3) scale(0.955 1)" text-anchor="middle">2</text>
<text transform="translate(1991.9 533.3) scale(0.955 1)" text-anchor="middle">2.5</text>
<text transform="translate(1440.2 517.4) scale(0.955 1)" text-anchor="end">-0.2</text>
<text transform="translate(1440.2 455.62) scale(0.955 1)" text-anchor="end">0</text>
<text transform="translate(1440.2 393.84) scale(0.955 1)" text-anchor="end">0.2</text>
<text transform="translate(1440.2 332.06) scale(0.955 1)" text-anchor="end">0.4</text>
<text transform="translate(1440.2 270.29) scale(0.955 1)" text-anchor="end">0.6</text>
<text transform="translate(1440.2 208.51) scale(0.955 1)" text-anchor="end">0.8</text>
<text transform="translate(1440.2 146.73) scale(0.955 1)" text-anchor="end">1</text>
<text transform="translate(1440.2 84.95) scale(0.955 1)" text-anchor="end">1.2</text>
<path d="M1443.9 138.5 L1451.1 134.5 L1458.2 134.1 L1472.3 139.6 L1495.57 163.32 L1512.9 189.02 L1530.22 218.83 L1535.76 228.84 L1540.15 236.84 L1544.54 244.88 L1548.93 252.93 L1553.32 260.96 L1557.71 268.95 L1562.1 276.88 L1566.49 284.72 L1570.88 292.45 L1575.26 300.07 L1579.65 307.55 L1584.04 314.89 L1588.43 322.06 L1592.82 329.06 L1597.21 335.88 L1601.6 342.5 L1605.99 348.93 L1610.37 355.16 L1614.76 361.18 L1619.15 366.98 L1623.54 372.57 L1627.93 377.93 L1632.32 383.07 L1636.71 387.99 L1641.1 392.69 L1645.48 397.16 L1649.87 401.41 L1654.26 405.44 L1658.65 409.25 L1663.04 412.84 L1667.43 416.21 L1671.82 419.38 L1676.21 422.34 L1680.6 425.11 L1684.98 427.67 L1689.37 430.05 L1693.76 432.25 L1698.15 434.26 L1702.54 436.11 L1706.93 437.8 L1711.32 439.34 L1715.71 440.73 L1720.09 441.99 L1724.48 443.11 L1728.87 444.12 L1733.26 445.01 L1737.65 445.8 L1742.04 446.5 L1746.43 447.1 L1750.82 447.63 L1755.2 448.09 L1759.59 448.49 L1763.98 448.82 L1768.37 449.11 L1772.76 449.35 L1777.15 449.55 L1781.54 449.72 L1785.93 449.86 L1790.32 449.97 L1794.7 450.06 L1794.7 450.06 L1805.68 450.21 L1816.65 450.24 L1827.62 450.2 L1838.59 450.12 L1849.56 450.01 L1860.54 449.88 L1871.51 449.74 L1882.48 449.58 L1893.45 449.42 L1904.42 449.24 L1915.4 449.05 L1926.37 448.85 L1937.34 448.65 L1948.31 448.43 L1959.28 448.21 L1970.26 447.98 L1981.23 447.74 L1992.2 447.5" fill="none" stroke="#000" stroke-width="3.6" stroke-linejoin="round"/>
<path d="M1443.6 138.4 L1447.99 145.65 L1452.38 153.14 L1456.77 160.85 L1461.16 168.75 L1465.54 176.8 L1469.93 184.99 L1474.32 193.27 L1478.71 201.63 L1483.1 210.04 L1487.49 218.47 L1491.88 226.9 L1496.27 235.32 L1500.65 243.7 L1505.04 252.01 L1509.43 260.25 L1513.82 268.4 L1518.21 276.43 L1522.6 284.34 L1526.99 292.11 L1531.38 299.73 L1535.76 307.19 L1540.15 314.47 L1544.54 321.58 L1548.93 328.49 L1553.32 335.21 L1557.71 341.73 L1562.1 348.04 L1566.49 354.13 L1570.88 360.01 L1575.26 365.67 L1579.65 371.12 L1584.04 376.34 L1588.43 381.34 L1592.82 386.12 L1597.21 390.68 L1601.6 395.02 L1605.99 399.14 L1610.37 403.06 L1614.76 406.76 L1619.15 410.26 L1623.54 413.55 L1627.93 416.65 L1632.32 419.56 L1636.71 422.28 L1641.1 424.82 L1645.48 427.19 L1649.87 429.4 L1654.26 431.44 L1658.65 433.33 L1663.04 435.07 L1667.43 436.67 L1671.82 438.14 L1676.21 439.48 L1680.6 440.71 L1684.98 441.82 L1689.37 442.83 L1693.76 443.74 L1698.15 444.56 L1702.54 445.3 L1706.93 445.96 L1711.32 446.55 L1715.71 447.07 L1720.09 447.53 L1724.48 447.94 L1728.87 448.3 L1733.26 448.61 L1737.65 448.88 L1742.04 449.12 L1746.43 449.33 L1750.82 449.5 L1755.2 449.65 L1759.59 449.78 L1763.98 449.89 L1768.37 449.98 L1772.76 450.06 L1777.15 450.12 L1781.54 450.17 L1785.93 450.22 L1790.32 450.25 L1794.7 450.28 L1805.68 450.32 L1816.65 450.29 L1827.62 450.22 L1838.59 450.13 L1849.56 450.02 L1860.54 449.88 L1871.51 449.74 L1882.48 449.58 L1893.45 449.42 L1904.42 449.24 L1915.4 449.05 L1926.37 448.85 L1937.34 448.65 L1948.31 448.43 L1959.28 448.21 L1970.26 447.98 L1981.23 447.74 L1992.2 447.5" fill="none" stroke="#000" stroke-width="3.6" stroke-linejoin="round"/>
<path d="M1443.6 138.4 L1447.99 144.48 L1452.38 151.29 L1456.77 158.72 L1461.16 166.7 L1465.54 175.15 L1469.93 183.97 L1474.32 193.1 L1478.71 202.47 L1483.1 212 L1487.49 221.64 L1491.88 231.33 L1496.27 241.02 L1500.65 250.66 L1505.04 260.23 L1509.43 269.67 L1513.82 278.96 L1518.21 288.07 L1522.6 296.98 L1526.99 305.68 L1531.38 314.13 L1535.76 322.34 L1540.15 330.28 L1544.54 337.95 L1548.93 345.35 L1553.32 352.46 L1557.71 359.28 L1562.1 365.82 L1566.49 372.07 L1570.88 378.04 L1575.26 383.71 L1579.65 389.1 L1584.04 394.2 L1588.43 399.03 L1592.82 403.58 L1597.21 407.86 L1601.6 411.88 L1605.99 415.63 L1610.37 419.13 L1614.76 422.39 L1619.15 425.4 L1623.54 428.18 L1627.93 430.73 L1632.32 433.08 L1636.71 435.21 L1641.1 437.15 L1645.48 438.89 L1649.87 440.47 L1654.26 441.87 L1658.65 443.12 L1663.04 444.23 L1667.43 445.2 L1671.82 446.05 L1676.21 446.78 L1680.6 447.41 L1684.98 447.95 L1689.37 448.41 L1693.76 448.8 L1698.15 449.12 L1702.54 449.39 L1706.93 449.6 L1711.32 449.78 L1715.71 449.92 L1720.09 450.04 L1724.48 450.13 L1728.87 450.2 L1733.26 450.25 L1737.65 450.29 L1742.04 450.32 L1746.43 450.34 L1750.82 450.36 L1755.2 450.37 L1759.59 450.38 L1763.98 450.39 L1768.37 450.39 L1772.76 450.39 L1777.15 450.4 L1781.54 450.4 L1785.93 450.4 L1790.32 450.4 L1794.7 450.4 L1805.68 450.39 L1816.65 450.33 L1827.62 450.24 L1838.59 450.14 L1849.56 450.02 L1860.54 449.89 L1871.51 449.74 L1882.48 449.58 L1893.45 449.42 L1904.42 449.24 L1915.4 449.05 L1926.37 448.85 L1937.34 448.65 L1948.31 448.43 L1959.28 448.21 L1970.26 447.98 L1981.23 447.74 L1992.2 447.5" fill="none" stroke="#000" stroke-width="3.6" stroke-linejoin="round"/>
<path d="M1443.6 138.4 L1445.79 154.87 L1447.99 170.81 L1450.18 186.16 L1452.38 200.87 L1454.57 214.92 L1456.77 228.29 L1458.96 240.99 L1461.16 253.03 L1463.35 264.42 L1465.54 275.19 L1467.74 285.36 L1469.93 294.95 L1472.13 303.99 L1474.32 312.5 L1476.52 320.52 L1478.71 328.07 L1480.9 335.18 L1483.1 341.86 L1485.29 348.16 L1487.49 354.07 L1489.68 359.64 L1491.88 364.88 L1494.07 369.81 L1496.27 374.45 L1498.46 378.81 L1500.65 382.91 L1502.85 386.78 L1505.04 390.41 L1507.24 393.83 L1509.43 397.05 L1511.63 400.07 L1513.82 402.92 L1516.02 405.61 L1518.21 408.13 L1520.4 410.51 L1522.6 412.75 L1524.79 414.85 L1526.99 416.84 L1529.18 418.7 L1531.38 420.46 L1533.57 422.11 L1535.76 423.67 L1537.96 425.14 L1540.15 426.52 L1542.35 427.82 L1544.54 429.05 L1546.74 430.2 L1548.93 431.29 L1551.13 432.31 L1553.32 433.28 L1555.51 434.18 L1557.71 435.04 L1559.9 435.84 L1562.1 436.6 L1564.29 437.32 L1566.49 437.99 L1568.68 438.62 L1570.88 439.22 L1573.07 439.78 L1575.26 440.31 L1577.46 440.81 L1579.65 441.28 L1581.85 441.72 L1584.04 442.14 L1586.24 442.53 L1588.43 442.9 L1590.62 443.25 L1592.82 443.58 L1595.01 443.89 L1597.21 444.18 L1599.4 444.45 L1601.6 444.71 L1603.79 444.95 L1605.99 445.18 L1608.18 445.4 L1610.37 445.6 L1612.57 445.79 L1614.76 445.97 L1616.96 446.14 L1619.15 446.3 L1621.35 446.45 L1623.54 446.6 L1625.74 446.73 L1627.93 446.86 L1630.12 446.97 L1632.32 447.09 L1634.51 447.19 L1636.71 447.29 L1638.9 447.38 L1641.1 447.47 L1643.29 447.56 L1645.48 447.63 L1647.68 447.71 L1649.87 447.78 L1652.07 447.84 L1654.26 447.9 L1656.46 447.96 L1658.65 448.02 L1660.85 448.07 L1663.04 448.11 L1665.23 448.16 L1667.43 448.2 L1669.62 448.24 L1671.82 448.28 L1674.01 448.32 L1676.21 448.35 L1678.4 448.38 L1680.6 448.41 L1682.79 448.44 L1684.98 448.47 L1687.18 448.49 L1689.37 448.52 L1691.57 448.54 L1693.76 448.56 L1695.96 448.58 L1698.15 448.6 L1700.34 448.62 L1702.54 448.63 L1704.73 448.65 L1706.93 448.66 L1709.12 448.68 L1711.32 448.69 L1713.51 448.7 L1715.71 448.71 L1717.9 448.72 L1720.09 448.73 L1722.29 448.74 L1724.48 448.75 L1726.68 448.76 L1728.87 448.77 L1731.07 448.78 L1733.26 448.78 L1735.46 448.79 L1737.65 448.8 L1739.84 448.8 L1742.04 448.81 L1744.23 448.81 L1746.43 448.82 L1748.62 448.82 L1750.82 448.83 L1753.01 448.83 L1755.2 448.84 L1757.4 448.84 L1759.59 448.84 L1761.79 448.85 L1763.98 448.85 L1766.18 448.85 L1768.37 448.86 L1770.57 448.86 L1772.76 448.86 L1774.95 448.86 L1777.15 448.86 L1779.34 448.87 L1781.54 448.87 L1783.73 448.87 L1785.93 448.87 L1788.12 448.87 L1790.32 448.88 L1792.51 448.88 L1794.7 448.88 L1805.68 448.88 L1816.65 448.88 L1827.62 448.85 L1838.59 448.81 L1849.56 448.75 L1860.54 448.69 L1871.51 448.62 L1882.48 448.55 L1893.45 448.46 L1904.42 448.38 L1915.4 448.28 L1926.37 448.18 L1937.34 448.08 L1948.31 447.97 L1959.28 447.86 L1970.26 447.74 L1981.23 447.62 L1992.2 447.5" fill="none" stroke="#ff0000" stroke-width="3.6" stroke-linejoin="round" stroke-dasharray="12.5 11.4" stroke-dashoffset="0"/>
<path d="M1443.6 138.4 L1445.79 154.4 L1447.99 169.92 L1450.18 184.9 L1452.38 199.28 L1454.57 213.04 L1456.77 226.16 L1458.96 238.65 L1461.16 250.51 L1463.35 261.75 L1465.54 272.39 L1467.74 282.45 L1469.93 291.96 L1472.13 300.94 L1474.32 309.41 L1476.52 317.4 L1478.71 324.94 L1480.9 332.04 L1483.1 338.74 L1485.29 345.05 L1487.49 350.99 L1489.68 356.59 L1491.88 361.87 L1494.07 366.85 L1496.27 371.53 L1498.46 375.95 L1500.65 380.11 L1502.85 384.03 L1505.04 387.73 L1507.24 391.21 L1509.43 394.5 L1511.63 397.59 L1513.82 400.51 L1516.02 403.26 L1518.21 405.85 L1520.4 408.3 L1522.6 410.6 L1524.79 412.78 L1526.99 414.83 L1529.18 416.76 L1531.38 418.58 L1533.57 420.3 L1535.76 421.92 L1537.96 423.45 L1540.15 424.89 L1542.35 426.25 L1544.54 427.53 L1546.74 428.74 L1548.93 429.88 L1551.13 430.96 L1553.32 431.98 L1555.51 432.93 L1557.71 433.84 L1559.9 434.69 L1562.1 435.49 L1564.29 436.25 L1566.49 436.97 L1568.68 437.64 L1570.88 438.28 L1573.07 438.88 L1575.26 439.45 L1577.46 439.98 L1579.65 440.49 L1581.85 440.96 L1584.04 441.41 L1586.24 441.83 L1588.43 442.23 L1590.62 442.61 L1592.82 442.97 L1595.01 443.3 L1597.21 443.62 L1599.4 443.92 L1601.6 444.2 L1603.79 444.46 L1605.99 444.72 L1608.18 444.95 L1610.37 445.18 L1612.57 445.39 L1614.76 445.58 L1616.96 445.77 L1619.15 445.95 L1621.35 446.12 L1623.54 446.27 L1625.74 446.42 L1627.93 446.56 L1630.12 446.69 L1632.32 446.82 L1634.51 446.94 L1636.71 447.05 L1638.9 447.15 L1641.1 447.25 L1643.29 447.34 L1645.48 447.43 L1647.68 447.52 L1649.87 447.59 L1652.07 447.67 L1654.26 447.74 L1656.46 447.8 L1658.65 447.86 L1660.85 447.92 L1663.04 447.98 L1665.23 448.03 L1667.43 448.08 L1669.62 448.13 L1671.82 448.17 L1674.01 448.21 L1676.21 448.25 L1678.4 448.29 L1680.6 448.32 L1682.79 448.35 L1684.98 448.39 L1687.18 448.41 L1689.37 448.44 L1691.57 448.47 L1693.76 448.49 L1695.96 448.52 L1698.15 448.54 L1700.34 448.56 L1702.54 448.58 L1704.73 448.6 L1706.93 448.61 L1709.12 448.63 L1711.32 448.64 L1713.51 448.66 L1715.71 448.67 L1717.9 448.68 L1720.09 448.7 L1722.29 448.71 L1724.48 448.72 L1726.68 448.73 L1728.87 448.74 L1731.07 448.75 L1733.26 448.76 L1735.46 448.76 L1737.65 448.77 L1739.84 448.78 L1742.04 448.79 L1744.23 448.79 L1746.43 448.8 L1748.62 448.8 L1750.82 448.81 L1753.01 448.82 L1755.2 448.82 L1757.4 448.82 L1759.59 448.83 L1761.79 448.83 L1763.98 448.84 L1766.18 448.84 L1768.37 448.84 L1770.57 448.85 L1772.76 448.85 L1774.95 448.85 L1777.15 448.86 L1779.34 448.86 L1781.54 448.86 L1783.73 448.86 L1785.93 448.86 L1788.12 448.87 L1790.32 448.87 L1792.51 448.87 L1794.7 448.87 L1805.68 448.88 L1816.65 448.87 L1827.62 448.85 L1838.59 448.8 L1849.56 448.75 L1860.54 448.69 L1871.51 448.62 L1882.48 448.55 L1893.45 448.46 L1904.42 448.38 L1915.4 448.28 L1926.37 448.18 L1937.34 448.08 L1948.31 447.97 L1959.28 447.86 L1970.26 447.74 L1981.23 447.62 L1992.2 447.5" fill="none" stroke="#ff0000" stroke-width="3.6" stroke-linejoin="round" stroke-dasharray="12.5 11.4" stroke-dashoffset="0"/>
<path d="M1443.6 138.4 L1445.79 153.69 L1447.99 168.23 L1450.18 182.05 L1452.38 195.19 L1454.57 207.69 L1456.77 219.56 L1458.96 230.86 L1461.16 241.6 L1463.35 251.81 L1465.54 261.51 L1467.74 270.74 L1469.93 279.51 L1472.13 287.85 L1474.32 295.79 L1476.52 303.33 L1478.71 310.5 L1480.9 317.31 L1483.1 323.79 L1485.29 329.95 L1487.49 335.81 L1489.68 341.38 L1491.88 346.67 L1494.07 351.71 L1496.27 356.49 L1498.46 361.05 L1500.65 365.37 L1502.85 369.49 L1505.04 373.4 L1507.24 377.11 L1509.43 380.65 L1511.63 384.01 L1513.82 387.21 L1516.02 390.24 L1518.21 393.13 L1520.4 395.88 L1522.6 398.49 L1524.79 400.97 L1526.99 403.33 L1529.18 405.58 L1531.38 407.71 L1533.57 409.74 L1535.76 411.67 L1537.96 413.5 L1540.15 415.24 L1542.35 416.9 L1544.54 418.48 L1546.74 419.98 L1548.93 421.4 L1551.13 422.75 L1553.32 424.04 L1555.51 425.27 L1557.71 426.43 L1559.9 427.54 L1562.1 428.59 L1564.29 429.59 L1566.49 430.54 L1568.68 431.44 L1570.88 432.3 L1573.07 433.12 L1575.26 433.9 L1577.46 434.64 L1579.65 435.34 L1581.85 436.01 L1584.04 436.64 L1586.24 437.25 L1588.43 437.82 L1590.62 438.37 L1592.82 438.88 L1595.01 439.38 L1597.21 439.85 L1599.4 440.29 L1601.6 440.72 L1603.79 441.12 L1605.99 441.5 L1608.18 441.87 L1610.37 442.21 L1612.57 442.54 L1614.76 442.86 L1616.96 443.15 L1619.15 443.44 L1621.35 443.71 L1623.54 443.96 L1625.74 444.2 L1627.93 444.44 L1630.12 444.66 L1632.32 444.86 L1634.51 445.06 L1636.71 445.25 L1638.9 445.43 L1641.1 445.6 L1643.29 445.76 L1645.48 445.92 L1647.68 446.07 L1649.87 446.21 L1652.07 446.34 L1654.26 446.46 L1656.46 446.58 L1658.65 446.7 L1660.85 446.81 L1663.04 446.91 L1665.23 447.01 L1667.43 447.1 L1669.62 447.19 L1671.82 447.27 L1674.01 447.35 L1676.21 447.43 L1678.4 447.5 L1680.6 447.57 L1682.79 447.64 L1684.98 447.7 L1687.18 447.76 L1689.37 447.81 L1691.57 447.87 L1693.76 447.92 L1695.96 447.97 L1698.15 448.01 L1700.34 448.06 L1702.54 448.1 L1704.73 448.14 L1706.93 448.18 L1709.12 448.21 L1711.32 448.24 L1713.51 448.28 L1715.71 448.31 L1717.9 448.34 L1720.09 448.36 L1722.29 448.39 L1724.48 448.42 L1726.68 448.44 L1728.87 448.46 L1731.07 448.48 L1733.26 448.5 L1735.46 448.52 L1737.65 448.54 L1739.84 448.56 L1742.04 448.58 L1744.23 448.59 L1746.43 448.61 L1748.62 448.62 L1750.82 448.64 L1753.01 448.65 L1755.2 448.66 L1757.4 448.67 L1759.59 448.68 L1761.79 448.69 L1763.98 448.71 L1766.18 448.71 L1768.37 448.72 L1770.57 448.73 L1772.76 448.74 L1774.95 448.75 L1777.15 448.76 L1779.34 448.76 L1781.54 448.77 L1783.73 448.78 L1785.93 448.78 L1788.12 448.79 L1790.32 448.79 L1792.51 448.8 L1794.7 448.8 L1805.68 448.83 L1816.65 448.83 L1827.62 448.81 L1838.59 448.78 L1849.56 448.73 L1860.54 448.67 L1871.51 448.61 L1882.48 448.54 L1893.45 448.46 L1904.42 448.37 L1915.4 448.28 L1926.37 448.18 L1937.34 448.08 L1948.31 447.97 L1959.28 447.86 L1970.26 447.74 L1981.23 447.62 L1992.2 447.5" fill="none" stroke="#ff0000" stroke-width="3.6" stroke-linejoin="round" stroke-dasharray="12.5 11.4" stroke-dashoffset="0"/>
<path d="M1597.6 274.6L1499.66 424.14" stroke="#000" stroke-width="2.6" fill="none"/>
<path d="M1489.6 439.5L1496.03 411.43L1499.66 424.14L1512.76 422.39Z" fill="#000" stroke="#000" stroke-width="0.6" stroke-linejoin="miter"/>
<text class="si" x="1583.67" y="255.80" style="font-size:17.50px">ϵ</text>
<text transform="translate(1597.25 255.8) scale(0.955 1)">=</text>
<text transform="translate(1722.7 255.8) scale(0.927 1)" text-anchor="end">0.4, 0.8, 1.5</text>
<rect x="1827.4" y="145.2" width="136.3" height="66" fill="#fff" stroke="#000" stroke-width="1.5"/>
<path d="M1832.3 167.6L1881.1 167.6" stroke="#000" stroke-width="3.2" fill="none"/>
<path d="M1836.9 193.1H1882.9" stroke="#ff0000" stroke-width="2.9" stroke-dasharray="9.5 9" fill="none"/>
<text transform="translate(1897.5 172.9) scale(0.94 1)">A = 0</text>
<text transform="translate(1897.5 200.3) scale(0.94 1)">A = 5</text>
<text class="si" transform="translate(1399.80 305.73) rotate(-90)" style="font-size:36.30px">ϕ</text>
<text class="sf" transform="translate(1399.50 285.50) rotate(-90)" style="font-size:37.70px;stroke:#fff;stroke-width:0.30px">(</text>
<text class="si" transform="translate(1399.40 273.20) rotate(-90) scale(1.050 1)" style="font-size:35.50px">η</text>
<text class="sf" transform="translate(1399.50 255.53) rotate(-90)" style="font-size:37.70px;stroke:#fff;stroke-width:0.30px">)</text>
<text class="si" transform="translate(1717.11 537.00) scale(1.150 1)" style="font-size:34.60px">η</text>
<text class="sf" x="1653.96" y="44.70" style="font-size:72.00px;stroke:#fff;stroke-width:1.80px">(</text>
<text class="sf" transform="translate(1675.30 46.40) scale(1.060 1)" style="font-size:59.00px;stroke:#fff;stroke-width:0.60px">c</text>
<text class="sf" x="1701.42" y="44.70" style="font-size:72.00px;stroke:#fff;stroke-width:1.80px">)</text>
</g>
</svg>
</body></html>
